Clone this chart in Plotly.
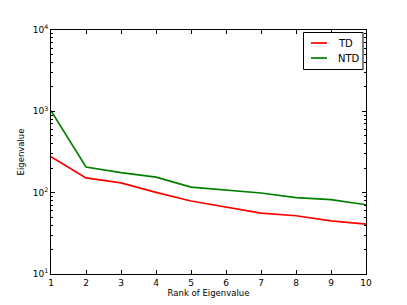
import plotly.graph_objects as go

ranks = [1, 2, 3, 4, 5, 6, 7, 8, 9, 10]
td = [277, 152, 132, 101, 79, 67, 56, 52, 45, 41]
ntd = [1020, 207, 176, 155, 117, 108, 99, 87, 82, 71]
series_names = ["TD", "NTD"]
series_colors = ["#ff0000", "#008000"]

y_major = [10, 100, 1000, 10000]
y_major_text = ["10<sup>1</sup>", "10<sup>2</sup>", "10<sup>3</sup>", "10<sup>4</sup>"]
y_minor = [m * d for d in [10, 100, 1000] for m in range(2, 10)]

fig = go.Figure()
for name, vals, col in zip(series_names, [td, ntd], series_colors):
    fig.add_trace(go.Scatter(x=ranks, y=vals, mode="lines", name=name,
                             line=dict(color=col, width=1.7)))

# plot area in screen px (page has 8px body margin)
L, R, T, B = 51, 366, 30, 274
W, H = 407, 305
OFF = 8


def px(x):
    return (x - L) / (R - L)


def py(y):
    return (B - y) / (B - T)


# manual legend (matplotlib style)
shapes = [dict(type="rect", xref="paper", yref="paper",
               x0=px(303.5), x1=px(363), y0=py(69.5), y1=py(32.5),
               line=dict(color="black", width=1), fillcolor="white", layer="above")]
annotations = []
for i, (name, col) in enumerate(zip(series_names, series_colors)):
    yy = 43 + 15 * i
    shapes.append(dict(type="line", xref="paper", yref="paper",
                       x0=px(311), x1=px(327), y0=py(yy), y1=py(yy),
                       line=dict(color=col, width=1.7), layer="above"))
    annotations.append(dict(xref="paper", yref="paper", x=px(336), y=py(yy),
                            text=name, showarrow=False, xanchor="left", yanchor="middle",
                            font=dict(family="DejaVu Sans", size=10, color="black")))

font = dict(family="DejaVu Sans", size=9, color="black")
fig.update_layout(
    width=W, height=H,
    margin=dict(l=L - OFF, r=W + OFF - R, t=T - OFF, b=H + OFF - B, autoexpand=False),
    paper_bgcolor="white", plot_bgcolor="white",
    font=font,
    showlegend=False,
    shapes=shapes,
    annotations=annotations,
)
fig.update_xaxes(
    range=[1, 10], tickvals=ranks, ticks="inside", ticklen=4, tickcolor="black",
    showline=True, linecolor="black", linewidth=1, mirror="allticks",
    showgrid=False, zeroline=False,
    title=dict(text="Rank of Eigenvalue", font=dict(size=8.5), standoff=2),
)
fig.update_yaxes(
    type="log", range=[1, 4], tickvals=y_major, ticktext=y_major_text,
    ticks="inside", ticklen=4, tickcolor="black",
    minor=dict(tickvals=y_minor, ticks="inside", ticklen=2, tickcolor="black"),
    showline=True, linecolor="black", linewidth=1, mirror="allticks",
    showgrid=False, zeroline=False,
    title=dict(text="Eigenvalue", font=dict(size=8.5), standoff=6),
)
fig.write_html("out.html")
